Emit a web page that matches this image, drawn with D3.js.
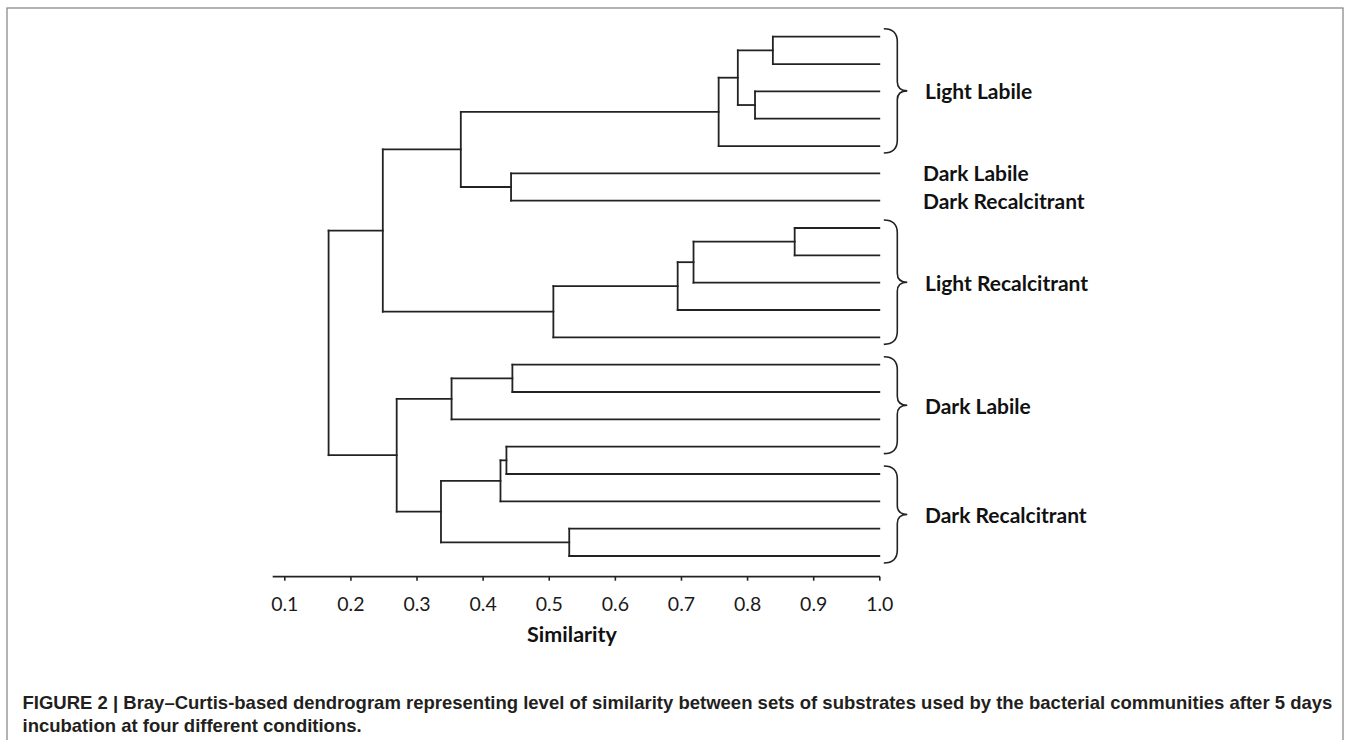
<!DOCTYPE html>
<html>
<head>
<meta charset="utf-8">
<script src="https://cdn.jsdelivr.net/npm/d3@7"></script>
<style>
  html, body { margin: 0; padding: 0; background: #fff; }
  svg { display: block; }
</style>
</head>
<body>
<svg id="chart" width="1350" height="740"></svg>
<script>
// ---------- DATA ----------
const leafCount = 20;
// merges: [leftId, rightId, similarity]; leaves are 0..19, merge k gets id 20+k
const mergeLeft  = [0, 2, 20, 22, 5, 23, 7, 26, 27, 28, 25, 12, 31, 15, 33, 18, 34, 32, 30];
const mergeRight = [1, 3, 21, 4, 6, 24, 8, 9, 10, 11, 29, 13, 14, 16, 17, 19, 35, 36, 37];
const mergeSim   = [0.839, 0.812, 0.786, 0.757, 0.443, 0.367, 0.872, 0.719, 0.695, 0.507,
                    0.249, 0.445, 0.353, 0.436, 0.427, 0.531, 0.337, 0.270, 0.167];
const groupLabels = ["Light Labile", "Dark Labile", "Dark Recalcitrant", "Light Recalcitrant", "Dark Labile", "Dark Recalcitrant"];
const groupFirst  = [0, 5, 6, 7, 12, 16];
const groupLast   = [4, 5, 6, 11, 15, 19];
const tickValues  = [0.1, 0.2, 0.3, 0.4, 0.5, 0.6, 0.7, 0.8, 0.9, 1.0];
const tickLabels  = ["0.1", "0.2", "0.3", "0.4", "0.5", "0.6", "0.7", "0.8", "0.9", "1.0"];
const axisTitle   = "Similarity";
const captionLines = [
  "FIGURE 2 | Bray\u2013Curtis-based dendrogram representing level of similarity between sets of substrates used by the bacterial communities after 5 days",
  "incubation at four different conditions."
];

// ---------- BUILD TREE ----------
const nodes = [];
for (let i = 0; i < leafCount; i++) nodes.push({ id: i, sim: 1.0, leaf: i });
mergeSim.forEach((s, k) => {
  nodes.push({ id: leafCount + k, sim: s, children: [nodes[mergeLeft[k]], nodes[mergeRight[k]]] });
});
const rootData = nodes[nodes.length - 1];
const root = d3.hierarchy(rootData, d => d.children);

// ---------- SCALES ----------
const svg = d3.select("#chart");
const x = d3.scaleLinear().domain([0.1, 1.0]).range([284.3, 879.3]);
const yLeaf = d3.scaleLinear().domain([0, leafCount - 1]).range([36.7, 556]);

root.eachAfter(n => {
  if (!n.children) n.yPos = yLeaf(n.data.leaf);
  else n.yPos = d3.mean(n.children, c => c.yPos);
  n.xPos = x(n.data.sim);
});

// ---------- FRAME ----------
svg.append("rect")
  .attr("x", 7).attr("y", 8).attr("width", 1336).attr("height", 760)
  .attr("fill", "none").attr("stroke", "#8a8a8a").attr("stroke-width", 1.3);

const ink = "#222";
const g = svg.append("g");

// ---------- DENDROGRAM ----------
const links = [];
root.each(n => {
  if (n.children) {
    links.push([[n.xPos, n.children[0].yPos], [n.xPos, n.children[1].yPos]]);
    n.children.forEach(c => links.push([[n.xPos, c.yPos], [c.xPos, c.yPos]]));
  }
});
g.selectAll("path.link").data(links).join("path")
  .attr("class", "link")
  .attr("d", d3.line())
  .attr("fill", "none").attr("stroke", ink).attr("stroke-width", 1.8)
  .attr("stroke-linecap", "square");

// ---------- AXIS ----------
const axisY = 576.7;
const axisG = svg.append("g").attr("transform", `translate(0,${axisY})`)
  .call(d3.axisBottom(x).tickValues(tickValues).tickSize(4).tickSizeOuter(0)
    .tickFormat((d, i) => tickLabels[i]));
axisG.select(".domain").remove();
axisG.selectAll(".tick line").attr("stroke", ink).attr("stroke-width", 1.6);
axisG.selectAll(".tick text")
  .attr("y", 34).attr("dy", null)
  .attr("fill", "#1a1a1a")
  .style("font-family", "Lato, 'Open Sans', sans-serif")
  .style("font-size", "19.5px");
axisG.append("line")
  .attr("x1", x(0.1) - 11.6).attr("x2", x(1.0) + 0.8)
  .attr("y1", 0).attr("y2", 0)
  .attr("stroke", ink).attr("stroke-width", 1.8);

svg.append("text")
  .attr("x", (x(0.1) - 11.6 + x(1.0)) / 2 - 4).attr("y", 641.5)
  .attr("text-anchor", "middle")
  .attr("fill", "#111")
  .style("font-family", "Lato, 'Open Sans', sans-serif")
  .style("font-weight", "bold")
  .style("font-size", "21.5px")
  .text(axisTitle);

// ---------- BRACES & LABELS ----------
function bracePath(y0, y1, xa, xb, xt) {
  const ym = (y0 + y1) / 2;
  const r = 13;
  return `M${xa},${y0} Q${xb},${y0} ${xb},${y0 + r} L${xb},${ym - 9} Q${xb},${ym} ${xt},${ym}` +
         ` Q${xb},${ym} ${xb},${ym + 9} L${xb},${y1 - r} Q${xb},${y1} ${xa},${y1}`;
}
groupLabels.forEach((label, i) => {
  const yTop = yLeaf(groupFirst[i]);
  const yBot = yLeaf(groupLast[i]);
  const yc = (yTop + yBot) / 2;
  const isGroup = groupLast[i] > groupFirst[i];
  if (isGroup) {
    svg.append("path")
      .attr("d", bracePath(yTop - 8, yBot + 7, x(1.0) + 4.5, x(1.0) + 18, x(1.0) + 28))
      .attr("fill", "none").attr("stroke", ink).attr("stroke-width", 1.6);
  }
  svg.append("text")
    .attr("x", isGroup ? 925 : 923)
    .attr("y", yc + 8)
    .attr("fill", "#111")
    .style("font-family", "Lato, 'Open Sans', sans-serif")
    .style("font-weight", "bold")
    .style("font-size", "21px")
    .text(label);
});

// ---------- CAPTION ----------
captionLines.forEach((line, i) => {
  svg.append("text")
    .attr("x", 22.5).attr("y", 709 + i * 22.5)
    .attr("fill", "#231f20")
    .style("font-family", "'Liberation Sans', Arial, sans-serif")
    .style("font-weight", "bold")
    .style("font-size", "18.5px")
    .text(line);
});
</script>
</body>
</html>
